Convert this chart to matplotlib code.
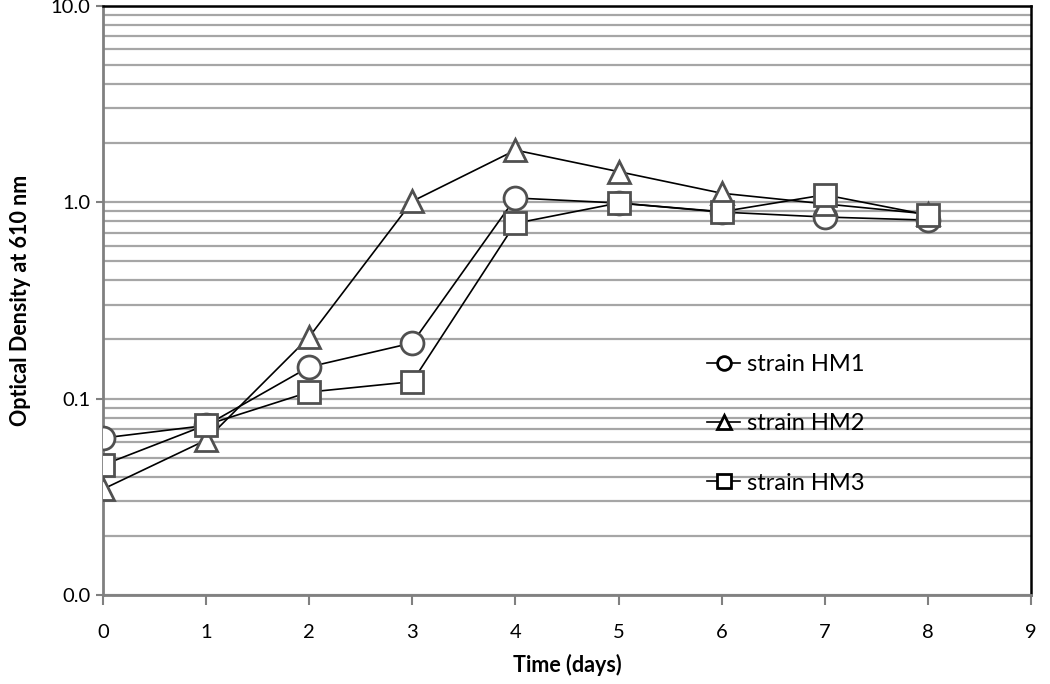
import matplotlib
matplotlib.use("Agg")
import matplotlib.pyplot as plt
from matplotlib.ticker import FixedLocator, LogLocator, NullFormatter

days = [0, 1, 2, 3, 4, 5, 6, 7, 8]
hm1 = [0.063, 0.073, 0.145, 0.192, 1.05, 0.99, 0.89, 0.84, 0.81]
hm2 = [0.0346, 0.0615, 0.206, 1.01, 1.84, 1.43, 1.11, 0.98, 0.87]
hm3 = [0.0459, 0.0734, 0.108, 0.122, 0.78, 0.99, 0.894, 1.09, 0.86]
series_labels = ["strain HM1", "strain HM2", "strain HM3"]
xticks = [0, 1, 2, 3, 4, 5, 6, 7, 8, 9]
yticks = [0.01, 0.1, 1.0, 10.0]
ytick_labels = ["0.0", "0.1", "1.0", "10.0"]
xlabel = "Time (days)"
ylabel = "Optical Density at 610 nm"

fam = ["Lato", "DejaVu Sans"]
plt.rcParams["font.family"] = fam

fig = plt.figure(figsize=(10.5, 6.84), dpi=100)
ax = fig.add_axes([0.098, 0.130, 0.884, 0.8617])
ax.set_yscale("log")
ax.set_ylim(0.01, 10)
ax.set_xlim(0, 9)

ax.yaxis.set_minor_locator(LogLocator(base=10, subs=range(2, 10)))
ax.yaxis.set_minor_formatter(NullFormatter())
ax.grid(True, which="both", axis="y", color="#a6a6a6", linewidth=1.6)
ax.set_axisbelow(True)

markers = ["o", "^", "s"]
for vals, m, lab in zip([hm1, hm2, hm3], markers, series_labels):
    ax.plot(days, vals, color="black", linewidth=1.2, marker=m, markersize=16.5,
            markerfacecolor="white", markeredgecolor="#505050", markeredgewidth=2,
            label=lab, zorder=3)

ax.set_xticks(xticks)
ax.set_xticklabels([str(t) for t in xticks], fontsize=14.5)
ax.yaxis.set_major_locator(FixedLocator(yticks))
ax.set_yticklabels(ytick_labels, fontsize=14.5)
ax.tick_params(axis="y", which="minor", length=0)
ax.tick_params(axis="y", which="major", length=5, width=1.5, color="#808080",
               direction="out", pad=4)
ax.tick_params(axis="x", length=7, width=1.5, color="#808080", direction="out", pad=14)

for s in ["left", "bottom"]:
    ax.spines[s].set_color("#808080")
    ax.spines[s].set_linewidth(2)
for s in ["top", "right"]:
    ax.spines[s].set_color("black")
    ax.spines[s].set_linewidth(1.8)

ax.set_xlabel(xlabel, fontsize=15.5, fontweight="bold", labelpad=9)
ax.set_ylabel(ylabel, fontsize=15.5, fontweight="bold", labelpad=14)

leg = ax.legend(loc="upper left", bbox_to_anchor=(0.651, 0.409), frameon=False,
                fontsize=17, markerscale=0.6, handlelength=1.4, handletextpad=0.3,
                labelspacing=1.62, borderpad=0, borderaxespad=0)
for h in leg.legend_handles:
    h.set_markeredgecolor("black")

fig.savefig("out.png", dpi=100)
